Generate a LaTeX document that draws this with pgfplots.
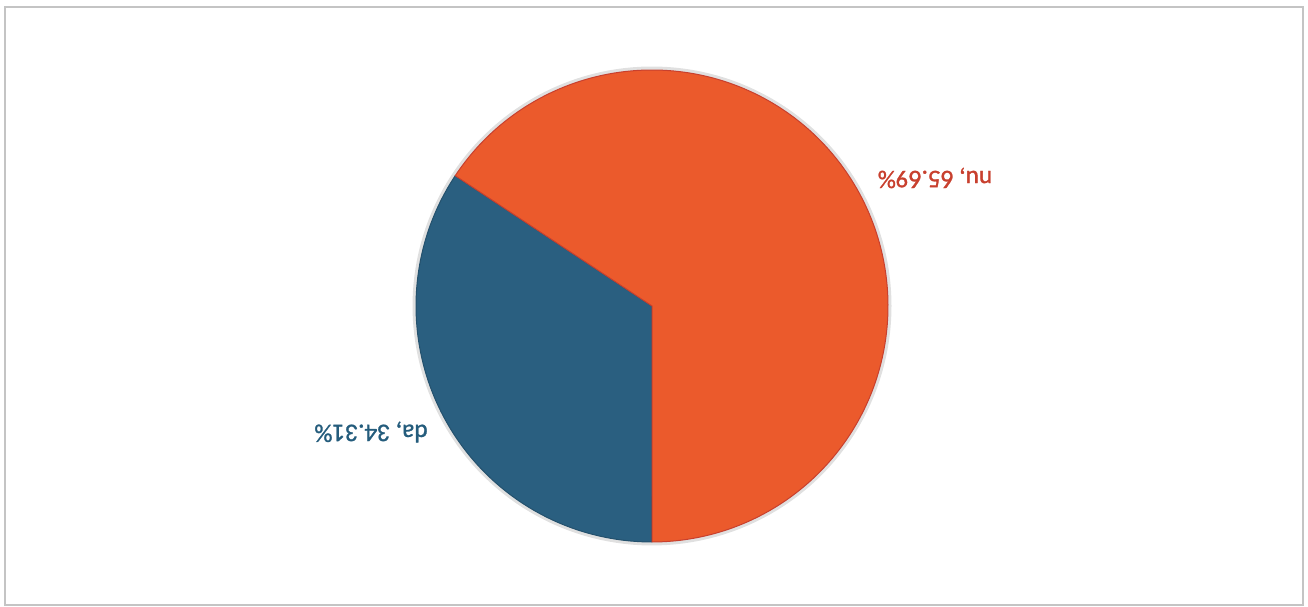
\documentclass[border=0pt]{standalone}
\usepackage{pgfplots}
\pgfplotsset{compat=1.18}
\usepackage{fontspec}
\setmainfont{Carlito}
\newfontfamily\labfont[FakeBold=1.2]{Carlito}
\definecolor{pieorange}{HTML}{EB5A2C}
\definecolor{pieblue}{HTML}{2A5F80}
\definecolor{labred}{HTML}{C8402E}
\definecolor{labblue}{HTML}{245C7C}
\definecolor{frame}{HTML}{C4C4C4}
% data: share in percent
\def\pda{34.31}
\def\pnu{65.69}
\def\cx{652}
\def\cy{301}
\def\rr{236}
\begin{document}
\begin{tikzpicture}
\begin{axis}[
  scale only axis, width=13.08cm, height=6.07cm,
  xmin=0, xmax=1308, ymin=0, ymax=607,
  hide axis, clip=false,
]
% frame
\draw[frame, line width=0.2mm] (axis cs:5,2) rectangle (axis cs:1303,600);
% halo
\addplot[draw=black!12, line width=0.4mm, domain=0:360, samples=180, variable=\t]
  ({\cx+(\rr+1.5)*cos(\t)},{\cy+(\rr+1.5)*sin(\t)});
% da slice (blue), clockwise from bottom
\addplot[fill=pieblue, draw=pieblue!85!black, line width=0.1mm, domain={270-3.6*\pda}:270, samples=120, variable=\t]
  ({\cx+\rr*cos(\t)},{\cy+\rr*sin(\t)}) -- (axis cs:\cx,\cy) -- cycle;
% nu slice (orange)
\addplot[fill=pieorange, draw=labred, line width=0.1mm, domain={-90}:{-90+3.6*\pnu}, samples=200, variable=\t]
  ({\cx+\rr*cos(\t)},{\cy+\rr*sin(\t)}) -- (axis cs:\cx,\cy) -- cycle;
% labels (upside down, as in the scan)
\node[rotate=180, text=labred, font=\labfont\fontsize{7.2pt}{8pt}\selectfont] at (axis cs:935,429) {nu, 65.69\%};
\node[rotate=180, text=labblue, font=\labfont\fontsize{7.2pt}{8pt}\selectfont] at (axis cs:371,175) {da, 34.31\%};
\end{axis}
\pgfresetboundingbox
\path (0,0) rectangle (13.08cm,6.07cm);
\end{tikzpicture}
\end{document}
